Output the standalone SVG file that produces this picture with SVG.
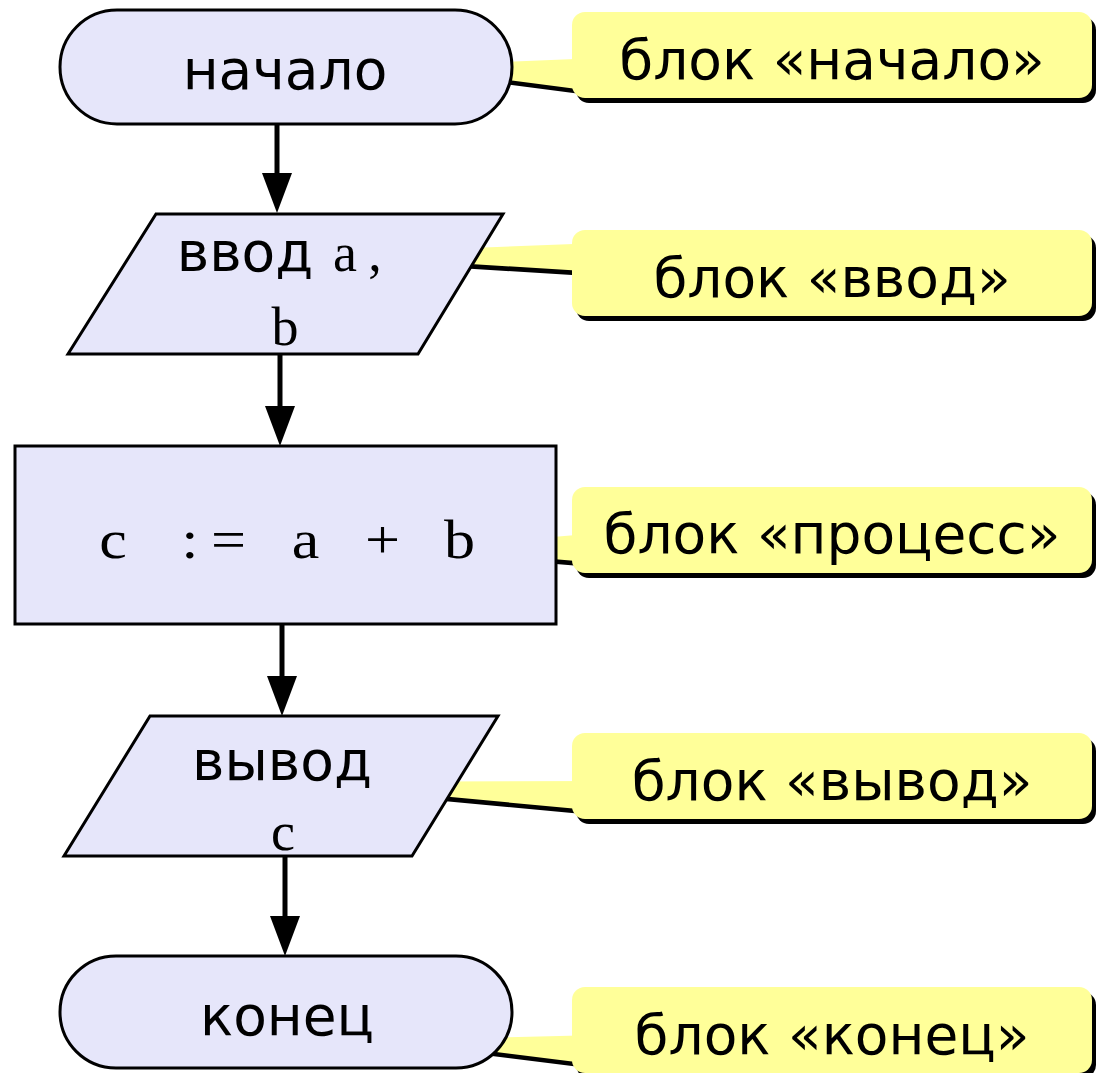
<svg xmlns="http://www.w3.org/2000/svg" width="1096" height="1073" viewBox="0 0 1096 1073">
  <style>
    .node { fill: #e6e6fa; stroke: #000; stroke-width: 3; }
    .label { font-family: "DejaVu Sans", "Noto Sans", sans-serif; font-size: 55px; fill: #000; text-anchor: middle; }
    .code { font-family: "Liberation Serif", "Times New Roman", serif; font-size: 54px; fill: #000; text-anchor: middle; }
    .note { fill: #ffff99; }
    .note-shadow { fill: #000; }
    .flow { stroke: #000; stroke-width: 5; fill: none; marker-end: url(#head); }
  </style>
  <defs>
    <marker id="head" viewBox="0 -15 40 30" refX="10" refY="0" markerWidth="40" markerHeight="30" markerUnits="userSpaceOnUse" orient="auto">
      <path d="M0,-15 L40,0 L0,15 z" fill="#000"/>
    </marker>
  </defs>

  <rect width="1096" height="1073" fill="#fff"/>

  <!-- callouts (drawn beneath the blocks so their pointers tuck behind them) -->
  <g id="callouts">
    <g id="note-start">
      <g class="note-shadow" transform="translate(4,5)">
        <polygon points="400,66 600,58 600,92"/>
        <rect x="572" y="12" width="520" height="86" rx="13"/>
      </g>
      <g class="note">
        <polygon points="400,66 600,58 600,92"/>
        <rect x="572" y="12" width="520" height="86" rx="13"/>
      </g>
      <text class="label" x="832" y="79">блок «начало»</text>
    </g>
    <g id="note-input">
      <g class="note-shadow" transform="translate(4,5)">
        <polygon points="312,254 600,243 600,272"/>
        <rect x="572" y="230" width="520" height="86" rx="13"/>
      </g>
      <g class="note">
        <polygon points="312,254 600,243 600,272"/>
        <rect x="572" y="230" width="520" height="86" rx="13"/>
      </g>
      <text class="label" x="832" y="297">блок «ввод»</text>
    </g>
    <g id="note-process">
      <g class="note-shadow" transform="translate(4,5)">
        <polygon points="420,548 600,533 600,563"/>
        <rect x="572" y="487" width="520" height="86" rx="13"/>
      </g>
      <g class="note">
        <polygon points="420,548 600,533 600,563"/>
        <rect x="572" y="487" width="520" height="86" rx="13"/>
      </g>
      <text class="label" x="832" y="553">блок «процесс»</text>
    </g>
    <g id="note-output">
      <g class="note-shadow" transform="translate(4,5)">
        <polygon points="290,782 600,781 600,811"/>
        <rect x="572" y="733" width="520" height="86" rx="13"/>
      </g>
      <g class="note">
        <polygon points="290,782 600,781 600,811"/>
        <rect x="572" y="733" width="520" height="86" rx="13"/>
      </g>
      <text class="label" x="832" y="800">блок «вывод»</text>
    </g>
    <g id="note-end">
      <g class="note-shadow" transform="translate(4,5)">
        <polygon points="400,1040 600,1035 600,1065"/>
        <rect x="572" y="987" width="520" height="86" rx="13"/>
      </g>
      <g class="note">
        <polygon points="400,1040 600,1035 600,1065"/>
        <rect x="572" y="987" width="520" height="86" rx="13"/>
      </g>
      <text class="label" x="832" y="1054">блок «конец»</text>
    </g>
  </g>

  <!-- flow arrows -->
  <g id="connectors">
    <line class="flow" x1="277" y1="124" x2="277" y2="183"/>
    <line class="flow" x1="280" y1="354" x2="280" y2="416"/>
    <line class="flow" x1="282" y1="624" x2="282" y2="686"/>
    <line class="flow" x1="285" y1="856" x2="285" y2="926"/>
  </g>

  <!-- flowchart blocks -->
  <g id="start">
    <rect class="node" x="60" y="10" width="452" height="114" rx="57" ry="57"/>
    <text class="label" x="285" y="89">начало</text>
  </g>
  <g id="input">
    <polygon class="node" points="156,214 503,214 418,354 68,354"/>
    <text class="label" y="271"><tspan x="245">ввод</tspan><tspan class="code" x="328 345 375"> a,</tspan></text>
    <text class="code" x="285" y="345">b</text>
  </g>
  <g id="process">
    <rect class="node" x="15" y="446" width="541" height="178"/>
    <!-- monospaced spacing: one glyph per 38.5px cell, glyphs widened by 1.15 -->
    <text class="code" font-size="62" transform="scale(1.15,1)" x="98.3 131.7 165.2 198.7 232.2 265.7 299.1 332.6 366.1 399.6" y="558">c := a + b</text>
  </g>
  <g id="output">
    <polygon class="node" points="150,716 498,716 412,856 64,856"/>
    <text class="label" x="282" y="780">вывод</text>
    <text class="code" x="283" y="850">c</text>
  </g>
  <g id="end">
    <rect class="node" x="60" y="956" width="452" height="112" rx="56" ry="56"/>
    <text class="label" x="287" y="1035">конец</text>
  </g>
</svg>
